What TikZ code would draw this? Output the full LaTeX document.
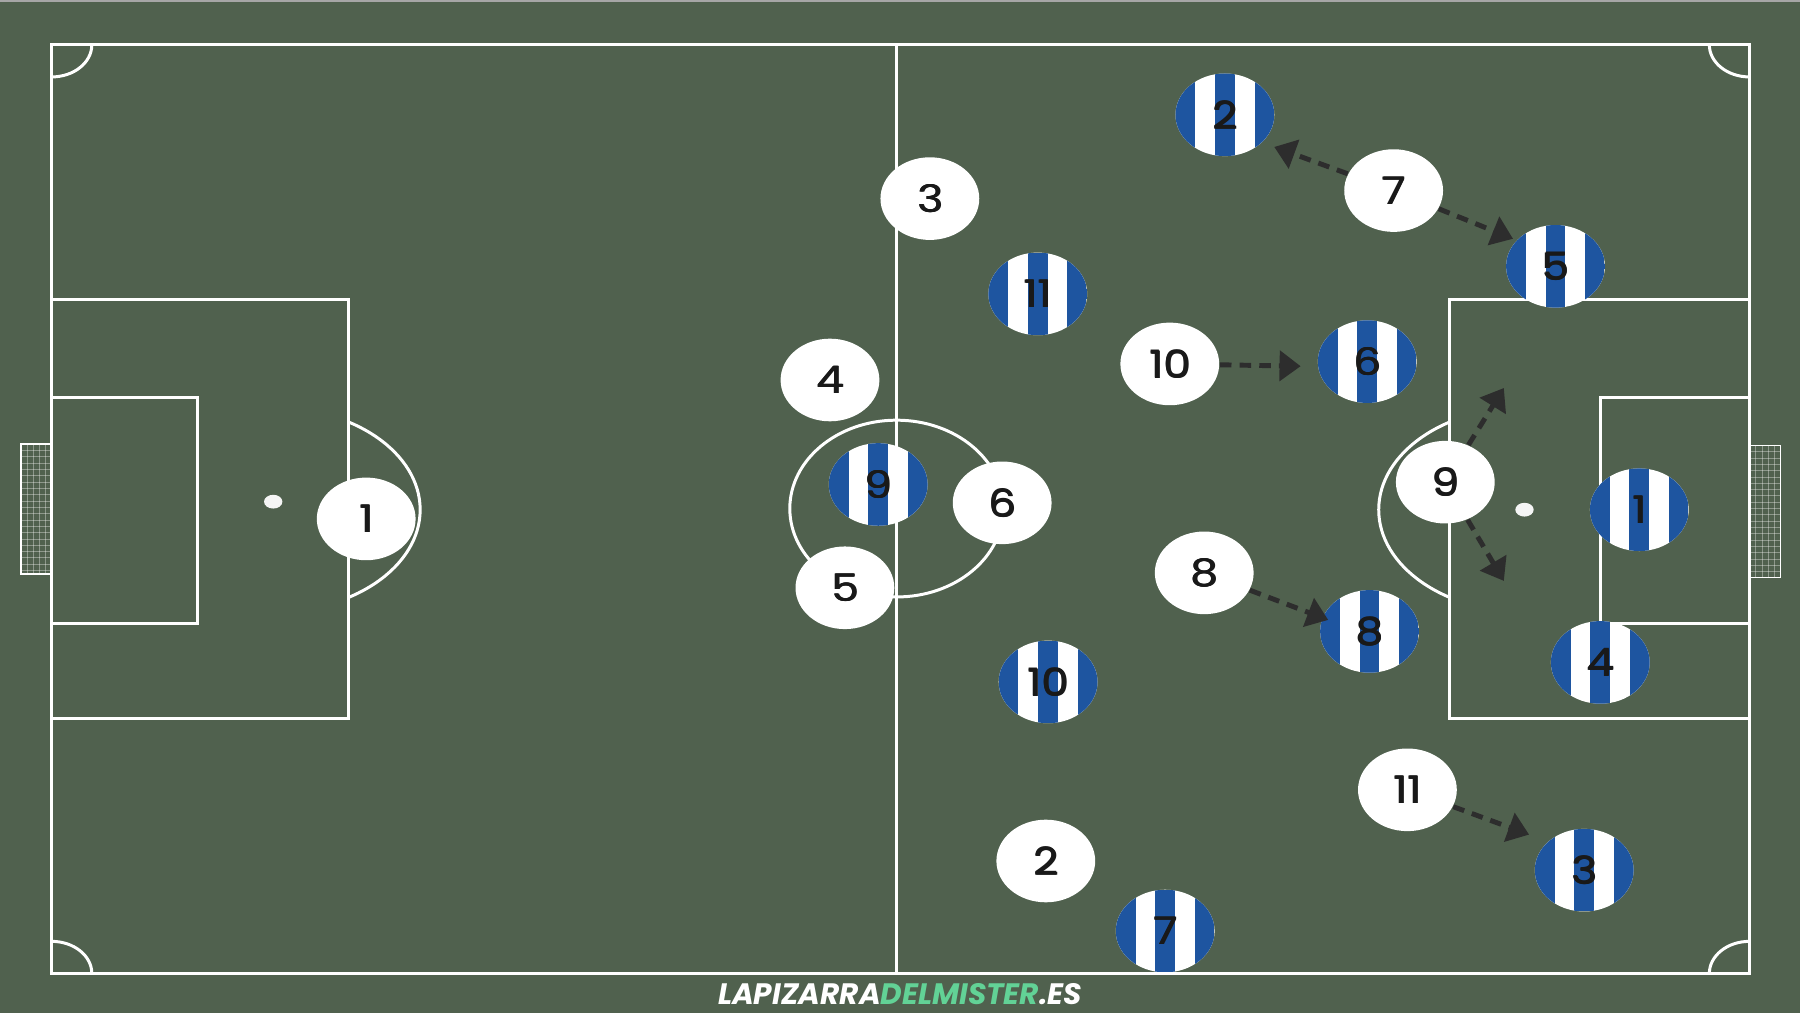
\documentclass[tikz,border=0pt]{standalone}
\usepackage{fontspec}
\setmainfont{Poppins}
\newfontfamily\numfont{Poppins}[FakeStretch=1.15]
\newcommand\heavynum[1]{\rlap{\kern0.3pt #1}\rlap{\raisebox{0.15pt}{\kern0.15pt #1}}#1}
\usetikzlibrary{shapes.geometric,arrows.meta}
\definecolor{pitch}{RGB}{80,97,78}
\definecolor{stripeblue}{RGB}{30,85,160}
\definecolor{arrowgrey}{RGB}{45,45,45}
\definecolor{brandgreen}{RGB}{98,210,150}
\begin{document}
\begin{tikzpicture}[x=0.01148cm,y=-0.01148cm,
  fieldline/.style={draw=white,line width=0.85pt},
  netline/.style={draw=white,opacity=0.35,line width=0.25pt},
  whiteplayer/.style={ellipse,fill=white,minimum width=28.1pt,minimum height=23.5pt,inner sep=0pt,
     font=\numfont\fontsize{10.8}{10.8}\selectfont,text=black!90},
  stripedplayer/.style={whiteplayer,path picture={
     \fill[stripeblue] (path picture bounding box.south west) rectangle ([xshift=5.62pt]path picture bounding box.north west);
     \fill[stripeblue] ([xshift=-2.81pt]path picture bounding box.south) rectangle ([xshift=2.81pt]path picture bounding box.north);
     \fill[stripeblue] ([xshift=-5.62pt]path picture bounding box.south east) rectangle (path picture bounding box.north east);}},
  run/.style={draw=arrowgrey,line width=1.4pt,dash pattern=on 3.3pt off 2.3pt,-{Triangle[length=6pt,width=8.5pt]}}]
\useasboundingbox (0,0) rectangle (1568,882);
\fill[pitch] (0,0) rectangle (1568,882);
\draw[gray!70,line width=0.6pt] (0,1) -- (1568,1);
% field
\draw[fieldline] (45,39) rectangle (1524,848);
\draw[fieldline] (781,39) -- (781,848);
\draw[fieldline] (781,443) ellipse [x radius=93, y radius=77];
\draw[fieldline] (45,261) rectangle (304,626);
\draw[fieldline] (45,346) rectangle (172,543);
\draw[fieldline] (1263,261) rectangle (1524,626);
\draw[fieldline] (1394,346) rectangle (1524,543);
\begin{scope}
  \clip (304,300) rectangle (420,600);
  \draw[fieldline] (238,444) ellipse [x radius=128, y radius=89];
\end{scope}
\begin{scope}
  \clip (1140,300) rectangle (1263,600);
  \draw[fieldline] (1328,444) ellipse [x radius=127, y radius=89];
\end{scope}
\fill[white!92!gray] (238,437) ellipse [x radius=8, y radius=6];
\fill[white!92!gray] (1328,444) ellipse [x radius=8, y radius=6];
\draw[fieldline] (80,39) arc[start angle=0,end angle=90,x radius=35,y radius=28];
\draw[fieldline] (1489,39) arc[start angle=180,end angle=90,x radius=35,y radius=28];
\draw[fieldline] (80,848) arc[start angle=0,end angle=-90,x radius=35,y radius=28];
\draw[fieldline] (1489,848) arc[start angle=180,end angle=270,x radius=35,y radius=28];
% goals
\foreach \yy in {392.5,398,...,497} {\draw[netline] (18,\yy) -- (45,\yy); \draw[netline] (1524,\yy+1) -- (1551,\yy+1);}
\foreach \xx in {23.5,29,...,41} {\draw[netline] (\xx,387) -- (\xx,500); \draw[netline] (\xx+1506,388) -- (\xx+1506,503);}
\draw[white,line width=0.5pt] (18,387) rectangle (45,500);
\draw[white,line width=0.5pt] (1524,388) rectangle (1551,503);
% white team
\node[whiteplayer] (w1) at (319,452) {\heavynum{1}};
\node[whiteplayer] (w3) at (810,173) {\heavynum{3}};
\node[whiteplayer] (w4) at (723,331) {\heavynum{4}};
\node[whiteplayer] (w5) at (736,512) {\heavynum{5}};
\node[whiteplayer] (w6) at (873,438) {\heavynum{6}};
\node[whiteplayer] (w2) at (911,750) {\heavynum{2}};
\node[whiteplayer] (w10) at (1019,317) {\heavynum{10}};
\node[whiteplayer] (w8) at (1049,499) {\heavynum{8}};
\node[whiteplayer] (w7) at (1214,166) {\heavynum{7}};
\node[whiteplayer] (w9) at (1259,420) {\heavynum{9}};
\node[whiteplayer] (w11) at (1226,688) {\heavynum{11}};
% striped team
\node[stripedplayer] (s2) at (1067,100) {\heavynum{2}};
\node[stripedplayer] (s5) at (1355,232) {\heavynum{5}};
\node[stripedplayer] (s11) at (904,256) {\heavynum{11}};
\node[stripedplayer] (s6) at (1191,315) {\heavynum{6}};
\node[stripedplayer] (s9) at (765,422) {\heavynum{9}};
\node[stripedplayer] (s1) at (1428,444) {\heavynum{1}};
\node[stripedplayer] (s8) at (1193,550) {\heavynum{8}};
\node[stripedplayer] (s10) at (913,594) {\heavynum{10}};
\node[stripedplayer] (s4) at (1394,577) {\heavynum{4}};
\node[stripedplayer] (s3) at (1380,758) {\heavynum{3}};
\node[stripedplayer] (s7) at (1015,811) {\heavynum{7}};
% runs
\coordinate (t1) at (1110,128);
\coordinate (t2) at (1318,208);
\coordinate (t3) at (1133,319);
\coordinate (t4) at (1310,338);
\coordinate (t5) at (1310,506);
\coordinate (t6) at (1157,540);
\coordinate (t7) at (1332,727);
\draw[run] (w7) -- (t1);
\draw[run] (w7) -- (t2);
\draw[run] (w10) -- (t3);
\draw[run] (w9) -- (t4);
\draw[run] (w9) -- (t5);
\draw[run] (w8) -- (t6);
\draw[run] (w11) -- (t7);
% footer
\node[font=\bfseries\itshape\fontsize{8.4}{8.4}\selectfont] (footer) at (784,866)
  {\textcolor{white}{LAPIZARRA}\textcolor{brandgreen}{DELMISTER}\textcolor{white}{.ES}};
\end{tikzpicture}
\end{document}
